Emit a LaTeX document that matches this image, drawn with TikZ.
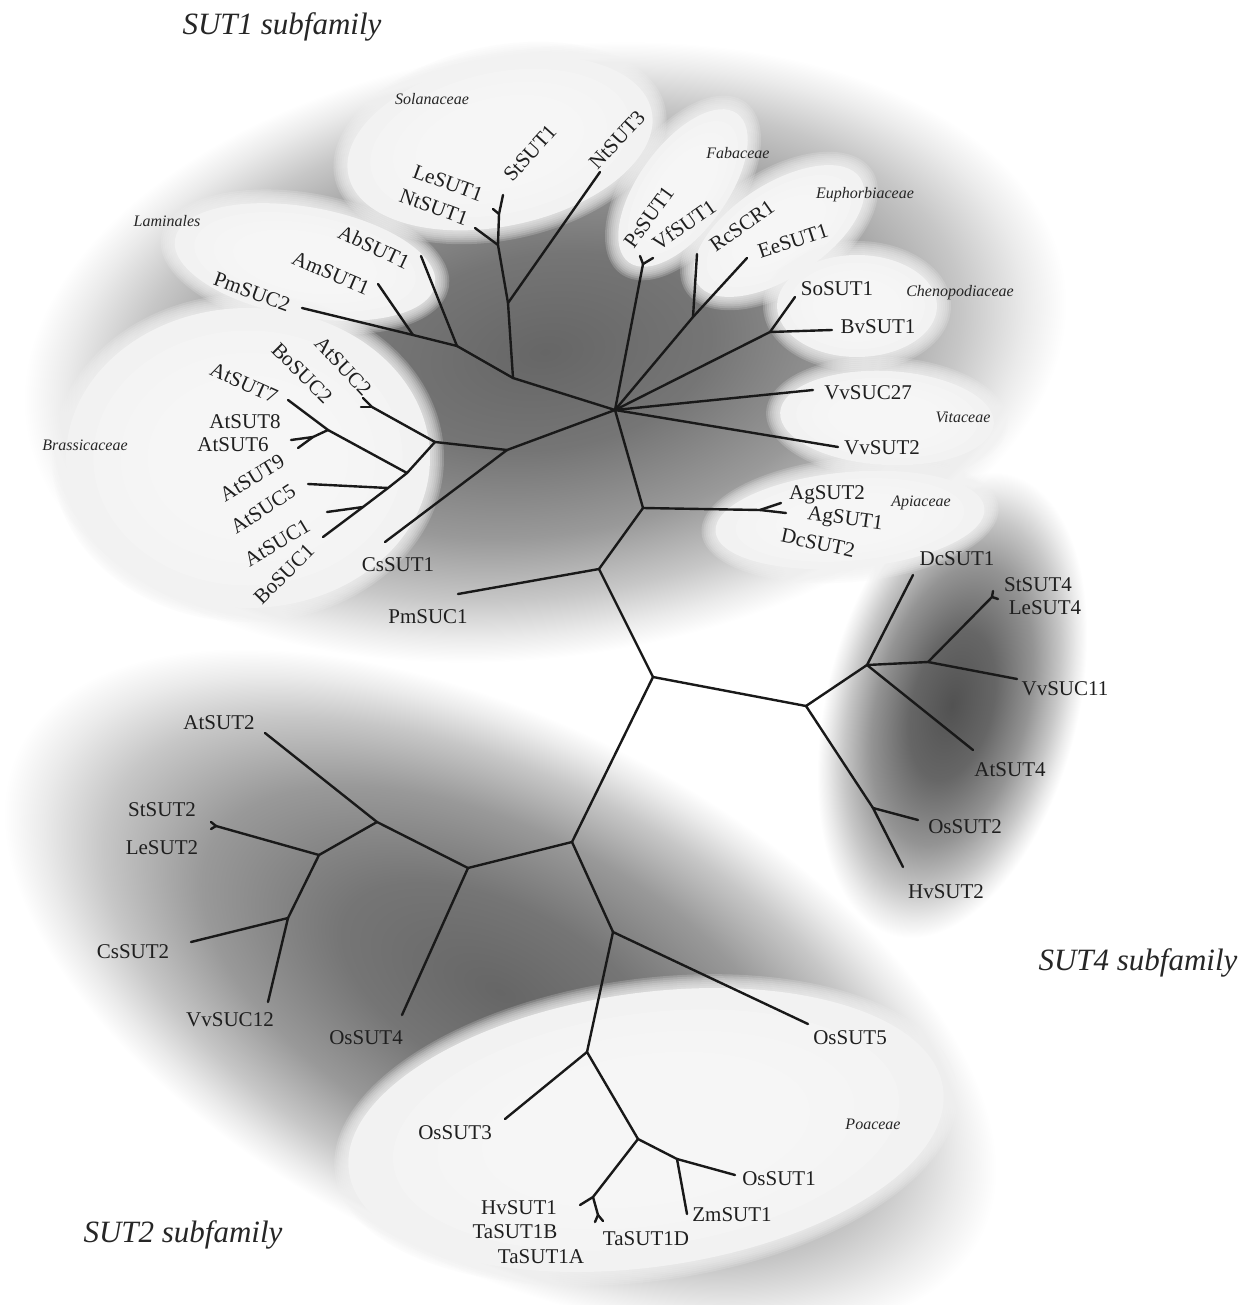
\documentclass[tikz,border=0pt]{standalone}
\usepackage{fontspec}
\setmainfont{Liberation Serif}
\pgfdeclareradialshading{blobA}{\pgfpoint{0bp}{0bp}}{color(0bp)=(black!60); color(8bp)=(black!54); color(15bp)=(black!40); color(20bp)=(black!22); color(23bp)=(black!8); color(25bp)=(white); color(50bp)=(white)}
\pgfdeclareradialshading{blobB}{\pgfpoint{0bp}{0bp}}{color(0bp)=(black!68); color(8bp)=(black!60); color(15bp)=(black!42); color(20bp)=(black!22); color(23bp)=(black!8); color(25bp)=(white); color(50bp)=(white)}
\newcommand\labfont{\fontsize{21}{24}\selectfont}
\newcommand\famfont{\itshape\fontsize{16}{18}\selectfont}
\newcommand\titfont{\itshape\fontsize{31}{36}\selectfont}
\newcommand\blobell[6]{%
  \begin{scope}[transform canvas={rotate around={#5:(#1,#2)}}]
    \shade[shading=#6] (#1,#2) ellipse [x radius=#3pt, y radius=#4pt];
  \end{scope}}
\newcommand\famell[5]{%
  \foreach \d in {14,12,10,8,6,4,2}{%
    \fill[white!95!black, fill opacity=0.2, rotate around={#5:(#1,#2)}] (#1,#2) ellipse [x radius={#3pt+\d pt}, y radius={#4pt+\d pt}];
  }
  \fill[white!95!black, rotate around={#5:(#1,#2)}] (#1,#2) ellipse [x radius=#3pt, y radius=#4pt];
  \foreach \f in {0.85,0.7,0.55}{%
    \fill[white, fill opacity=0.18, rotate around={#5:(#1,#2)}] (#1,#2) ellipse [x radius={#3pt*\f}, y radius={#4pt*\f}];
  }
}
\tikzset{
  br/.style={line width=2.4pt, draw=black!90, line cap=round, line join=round},
  lab/.style={font=\labfont, text=black!88, inner sep=0pt},
  fam/.style={font=\famfont, text=black!85, inner sep=0pt},
  ttl/.style={font=\titfont, text=black!85, inner sep=0pt}
}
\begin{document}
\begin{tikzpicture}[x=1pt,y=-1pt]
\useasboundingbox (0,0) rectangle (1247,1305);
\fill[white] (0,0) rectangle (1247,1305);
% subfamily shadings
\begin{scope}[blend mode=multiply]
\blobell{545}{352}{525}{305}{8}{blobA}
\blobell{500}{992}{540}{270}{-27}{blobA}
\blobell{952}{705}{238}{126}{76}{blobB}
\end{scope}
% family ellipses
\famell{500}{143}{155}{83}{12}
\famell{305}{262}{132}{55}{-10}
\famell{683}{188}{92}{44}{54}
\famell{779}{231}{97}{47}{33}
\famell{857}{306}{80}{51}{0}
\famell{887}{418}{107}{47}{-3}
\famell{850}{520}{135}{48}{5}
\famell{248}{458}{182}{150}{0}
\famell{646}{1130}{300}{137}{8}
% tree coordinates
\coordinate (hub) at (615,410);
\coordinate (nsol) at (513,378);
\coordinate (nab) at (457,346);
\coordinate (nam) at (413,335);
\coordinate (tPmSUC2) at (302,308);
\coordinate (tAmSUT1) at (378,284);
\coordinate (tAbSUT1) at (421,256);
\coordinate (nnt) at (508,303);
\coordinate (tNtSUT3) at (600,172);
\coordinate (nle) at (498,245);
\coordinate (tNtSUT1) at (475,228);
\coordinate (nst) at (499,214);
\coordinate (tStSUT1) at (503,195);
\coordinate (tLeSUT1) at (493,209);
\coordinate (nfab) at (643,264);
\coordinate (tPsSUT1) at (640,256);
\coordinate (tVfSUT1) at (653,258);
\coordinate (neu) at (693,317);
\coordinate (tRcSCR1) at (697,254);
\coordinate (tEeSUT1) at (747,258);
\coordinate (nch) at (770,332);
\coordinate (tSoSUT1) at (795,297);
\coordinate (tBvSUT1) at (832,330);
\coordinate (tVvSUC27) at (813,390);
\coordinate (tVvSUT2) at (838,447);
\coordinate (napi) at (643,508);
\coordinate (nag) at (760,510);
\coordinate (tAgSUT2) at (781,503);
\coordinate (tAgSUT1) at (786,513);
\coordinate (npm) at (599,569);
\coordinate (tPmSUC1) at (458,594);
\coordinate (ncen) at (653,677);
\coordinate (nbc) at (507,450);
\coordinate (tCsSUT1) at (385,542);
\coordinate (nbr) at (435,442);
\coordinate (nsuc) at (372,407);
\coordinate (tAtSUC2) at (363,398);
\coordinate (tBoSUC2) at (361,407);
\coordinate (nb1) at (407,473);
\coordinate (nb7) at (328,430);
\coordinate (tAtSUT7) at (288,400);
\coordinate (nb86) at (313,437);
\coordinate (tAtSUT8) at (291,440);
\coordinate (tAtSUT6) at (298,448);
\coordinate (nb2) at (388,488);
\coordinate (tAtSUT9) at (308,484);
\coordinate (nb3) at (363,507);
\coordinate (tAtSUC5) at (327,512);
\coordinate (tAtSUC1) at (323,537);
\coordinate (n4) at (806,706);
\coordinate (n4a) at (867,665);
\coordinate (tDcSUT1) at (913,575);
\coordinate (n4b) at (928,662);
\coordinate (n4s) at (992,597);
\coordinate (tStSUT4) at (993,591);
\coordinate (tLeSUT4) at (998,599);
\coordinate (tVvSUC11) at (1017,679);
\coordinate (tAtSUT4) at (973,750);
\coordinate (n4c) at (873,808);
\coordinate (tOsSUT2) at (918,820);
\coordinate (tHvSUT2) at (903,867);
\coordinate (n2) at (572,842);
\coordinate (n2a) at (468,868);
\coordinate (n2b) at (377,822);
\coordinate (tAtSUT2) at (265,733);
\coordinate (n2c) at (319,855);
\coordinate (n2s) at (216,826);
\coordinate (tStSUT2) at (211,822);
\coordinate (tLeSUT2) at (211,829);
\coordinate (n2d) at (288,918);
\coordinate (tCsSUT2) at (191,942);
\coordinate (tVvSUC12) at (268,1002);
\coordinate (tOsSUT4) at (402,1015);
\coordinate (n2e) at (613,932);
\coordinate (tOsSUT5) at (808,1024);
\coordinate (n2f) at (587,1052);
\coordinate (tOsSUT3) at (505,1119);
\coordinate (n2g) at (638,1139);
\coordinate (n2h) at (677,1159);
\coordinate (tOsSUT1) at (735,1175);
\coordinate (tZmSUT1) at (687,1214);
\coordinate (n2i) at (593,1197);
\coordinate (tHvSUT1) at (580,1205);
\coordinate (n2j) at (598,1215);
\coordinate (tTaA) at (595,1222);
\coordinate (tTaD) at (603,1221);
% branches
\foreach \a/\b in {hub/nsol,nsol/nab,nab/nam,nam/tPmSUC2,nam/tAmSUT1,nab/tAbSUT1,nsol/nnt,nnt/tNtSUT3,nnt/nle,nle/tNtSUT1,nle/nst,nst/tStSUT1,nst/tLeSUT1,
  hub/nfab,nfab/tPsSUT1,nfab/tVfSUT1,hub/neu,neu/tRcSCR1,neu/tEeSUT1,hub/nch,nch/tSoSUT1,nch/tBvSUT1,hub/tVvSUC27,hub/tVvSUT2,
  hub/napi,napi/nag,nag/tAgSUT2,nag/tAgSUT1,napi/npm,npm/tPmSUC1,npm/ncen,
  hub/nbc,nbc/tCsSUT1,nbc/nbr,nbr/nsuc,nsuc/tAtSUC2,nsuc/tBoSUC2,nbr/nb1,nb1/nb7,nb7/tAtSUT7,nb7/nb86,nb86/tAtSUT8,nb86/tAtSUT6,nb1/nb2,nb2/tAtSUT9,nb2/nb3,nb3/tAtSUC5,nb3/tAtSUC1,
  ncen/n4,n4/n4a,n4a/tDcSUT1,n4a/n4b,n4b/n4s,n4s/tStSUT4,n4s/tLeSUT4,n4b/tVvSUC11,n4a/tAtSUT4,n4/n4c,n4c/tOsSUT2,n4c/tHvSUT2,
  ncen/n2,n2/n2a,n2a/n2b,n2b/tAtSUT2,n2b/n2c,n2c/n2s,n2s/tStSUT2,n2s/tLeSUT2,n2c/n2d,n2d/tCsSUT2,n2d/tVvSUC12,n2a/tOsSUT4,
  n2/n2e,n2e/tOsSUT5,n2e/n2f,n2f/tOsSUT3,n2f/n2g,n2g/n2h,n2h/tOsSUT1,n2h/tZmSUT1,n2g/n2i,n2i/tHvSUT1,n2i/n2j,n2j/tTaA,n2j/tTaD}
  \draw[br] (\a) -- (\b);
% leaf labels, SUT1 subfamily
\node[lab,rotate=-20] (lPmSUC2) at (252,292) {PmSUC2};
\node[lab,rotate=-23] (lAmSUT1) at (331,273) {AmSUT1};
\node[lab,rotate=-25] (lAbSUT1) at (374,247) {AbSUT1};
\node[lab,rotate=-20] (lLeSUT1) at (448,183) {LeSUT1};
\node[lab,rotate=-20] (lNtSUT1) at (434,207) {NtSUT1};
\node[lab,rotate=48] (lStSUT1) at (530,153) {StSUT1};
\node[lab,rotate=47] (lNtSUT3) at (617,140) {NtSUT3};
\node[lab,rotate=54] (lPsSUT1) at (649,217) {PsSUT1};
\node[lab,rotate=35] (lVfSUT1) at (684,225) {VfSUT1};
\node[lab,rotate=35] (lRcSCR1) at (742,226) {RcSCR1};
\node[lab,rotate=18] (lEeSUT1) at (793,241) {EeSUT1};
\node[lab] (lSoSUT1) at (837,289) {SoSUT1};
\node[lab] (lBvSUT1) at (878,327) {BvSUT1};
\node[lab] (lVvSUC27) at (868,393) {VvSUC27};
\node[lab] (lVvSUT2) at (882,448) {VvSUT2};
\node[lab] (lAgSUT2) at (827,495) {AgSUT2};
\node[lab,rotate=-8] (lAgSUT1) at (845,520) {AgSUT1};
\node[lab,rotate=-12] (lDcSUT2) at (818,543) {DcSUT2};
\node[lab,rotate=-47] (lAtSUC2) at (343,366) {AtSUC2};
\node[lab,rotate=-45] (lBoSUC2) at (302,373) {BoSUC2};
\node[lab,rotate=-24] (lAtSUT7) at (244,383) {AtSUT7};
\node[lab] (lAtSUT8) at (245,422) {AtSUT8};
\node[lab] (lAtSUT6) at (233,445) {AtSUT6};
\node[lab,rotate=31] (lAtSUT9) at (252,478) {AtSUT9};
\node[lab,rotate=33] (lAtSUC5) at (263,509) {AtSUC5};
\node[lab,rotate=31] (lAtSUC1) at (277,543) {AtSUC1};
\node[lab,rotate=45] (lBoSUC1) at (284,574) {BoSUC1};
\node[lab] (lCsSUT1) at (398,565) {CsSUT1};
\node[lab] (lPmSUC1) at (428,617) {PmSUC1};
% SUT4 subfamily
\node[lab] (lDcSUT1) at (957,559) {DcSUT1};
\node[lab] (lStSUT4) at (1038,585) {StSUT4};
\node[lab] (lLeSUT4) at (1045,608) {LeSUT4};
\node[lab] (lVvSUC11) at (1065,689) {VvSUC11};
\node[lab] (lAtSUT4) at (1010,770) {AtSUT4};
\node[lab] (lOsSUT2) at (965,827) {OsSUT2};
\node[lab] (lHvSUT2) at (946,892) {HvSUT2};
% SUT2 subfamily
\node[lab] (lAtSUT2) at (219,723) {AtSUT2};
\node[lab] (lStSUT2) at (162,810) {StSUT2};
\node[lab] (lLeSUT2) at (162,848) {LeSUT2};
\node[lab] (lCsSUT2) at (133,952) {CsSUT2};
\node[lab] (lVvSUC12) at (230,1020) {VvSUC12};
\node[lab] (lOsSUT4) at (366,1038) {OsSUT4};
\node[lab] (lOsSUT5) at (850,1038) {OsSUT5};
\node[lab] (lOsSUT3) at (455,1133) {OsSUT3};
\node[lab] (lOsSUT1) at (779,1179) {OsSUT1};
\node[lab] (lZmSUT1) at (732,1215) {ZmSUT1};
\node[lab] (lHvSUT1) at (519,1208) {HvSUT1};
\node[lab] (lTaSUT1B) at (515,1232) {TaSUT1B};
\node[lab] (lTaSUT1A) at (541,1257) {TaSUT1A};
\node[lab] (lTaSUT1D) at (646,1239) {TaSUT1D};
% family names
\node[fam] (fSol) at (432,99) {Solanaceae};
\node[fam] (fLam) at (167,221) {Laminales};
\node[fam] (fFab) at (738,153) {Fabaceae};
\node[fam] (fEup) at (865,195) {Euphorbiaceae};
\node[fam] (fChe) at (960,293) {Chenopodiaceae};
\node[fam] (fBra) at (85,445) {Brassicaceae};
\node[fam] (fVit) at (963,417) {Vitaceae};
\node[fam] (fApi) at (921,503) {Apiaceae};
\node[fam] (fPoa) at (873,1124) {Poaceae};
% subfamily titles
\node[ttl] (tSUT1) at (282,27) {SUT1 subfamily};
\node[ttl] (tSUT4) at (1138,963) {SUT4 subfamily};
\node[ttl] (tSUT2) at (183,1235) {SUT2 subfamily};
\end{tikzpicture}
\end{document}
